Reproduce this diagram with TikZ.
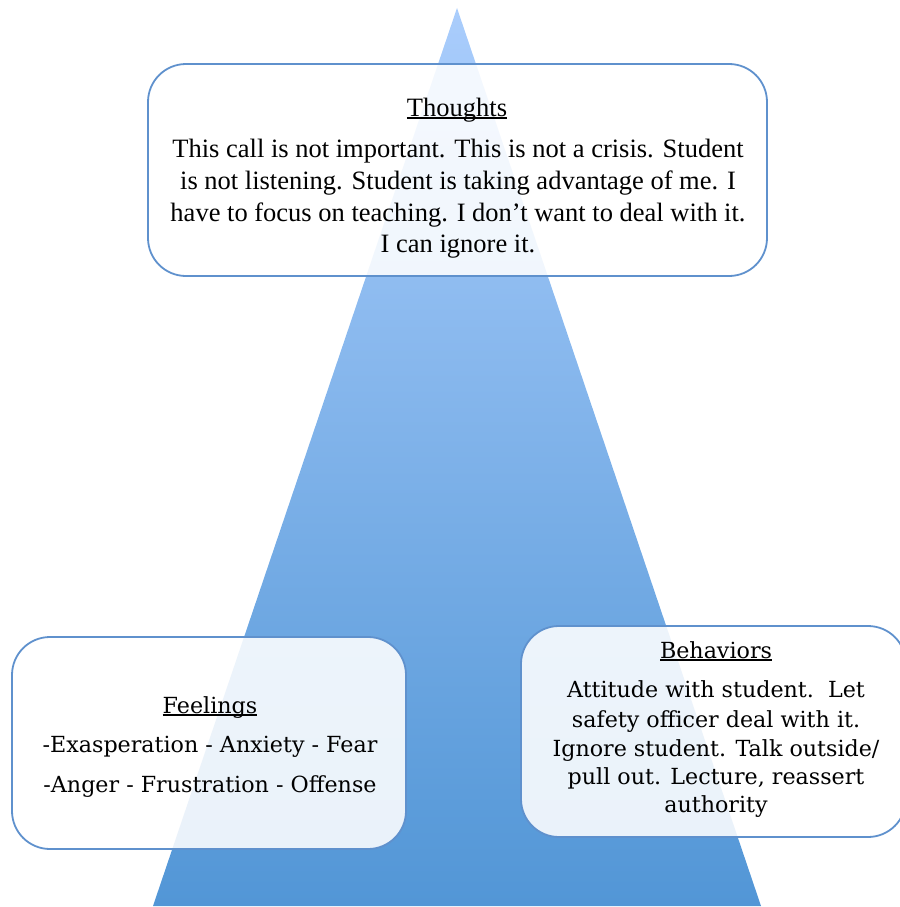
\documentclass[tikz,border=0pt]{standalone}
\usepackage{fontspec}
\setmainfont{Liberation Serif}
\newfontfamily\boxfont{DejaVu Serif}
\definecolor{pyrtop}{RGB}{170,205,252}
\definecolor{pyrbot}{RGB}{82,150,214}
\definecolor{boxline}{RGB}{95,145,205}
\newcommand\headline[2]{\setbox0\hbox{#2}\rlap{\rule[-#1]{\wd0}{1.7pt}}\box0}
\tikzset{
  textbox/.style={draw=boxline, line width=1.8pt, rounded corners=38pt,
    fill=white, fill opacity=0.88, draw opacity=1},
  thoughtline/.style={anchor=base, inner sep=0pt, font=\fontsize{26.5}{32}\selectfont},
  sideline/.style={anchor=base, inner sep=0pt, font=\boxfont\fontsize{22.2}{27}\selectfont},
}
\begin{document}
\begin{tikzpicture}[x=1pt, y=-1pt]
  \useasboundingbox (0,0) rectangle (899,907);

  % pyramid with vertical gradient
  \coordinate (apex) at (457,8);
  \coordinate (bl) at (153,906);
  \coordinate (br) at (761,906);
  \shade[top color=pyrtop, bottom color=pyrbot] (apex) -- (br) -- (bl) -- cycle;

  % three translucent boxes
  \draw[textbox] (148,64) rectangle (767,276);
  \draw[textbox] (12,637) rectangle (406,849);
  \draw[textbox] (521,626) rectangle (906,837);

  % Thoughts
  \node[thoughtline] (tt) at (457,116) {\headline{3pt}{Thoughts}};
  \node[thoughtline] (t1) at (458,157) {This call is not important. This is not a crisis. Student};
  \node[thoughtline] (t2) at (458,189) {is not listening. Student is taking advantage of me. I};
  \node[thoughtline] (t3) at (458,221) {have to focus on teaching. I don’t want to deal with it.};
  \node[thoughtline] (t4) at (458,252) {I can ignore it.};

  % Feelings
  \node[sideline] (ft) at (210,713) {\headline{3pt}{Feelings}};
  \node[sideline] (f1) at (210,752) {-Exasperation - Anxiety - Fear};
  \node[sideline] (f2) at (210,792) {-Anger - Frustration - Offense};

  % Behaviors
  \node[sideline] (bt) at (716,658) {\headline{3pt}{Behaviors}};
  \node[sideline] (b1) at (716,697) {Attitude with student.\ \ Let};
  \node[sideline] (b2) at (716,727) {safety officer deal with it.};
  \node[sideline] (b3) at (716,756) {Ignore student. Talk outside/};
  \node[sideline] (b4) at (716,784) {pull out. Lecture, reassert};
  \node[sideline] (b5) at (716,812) {authority};
\end{tikzpicture}
\end{document}
